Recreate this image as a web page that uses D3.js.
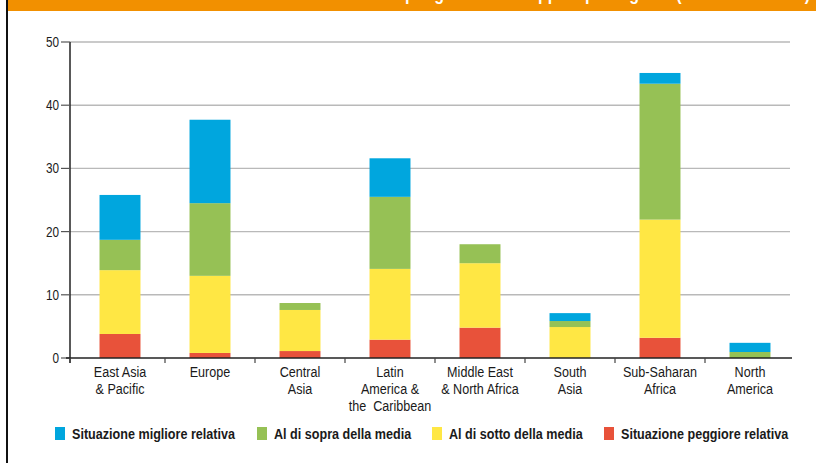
<!DOCTYPE html>
<html>
<head>
<meta charset="utf-8">
<script src="https://cdn.jsdelivr.net/npm/d3@7"></script>
<style>
  body { margin: 0; background: #fff; }
  svg { display: block; }
  .tick-label, .cat-label, .legend-label { font-family: "Liberation Sans Narrow", "Liberation Sans", Arial, sans-serif; fill: #1a1a1a; }
</style>
</head>
<body>
<div id="main"></div>
<script>
const WIDTH = 816;
const HEIGHT = 463;
// no condensed face installed, so squeeze text horizontally
const NARROW = 0.84;

// categories (multi-line labels)
const categories = [
  ["East Asia", "& Pacific"],
  ["Europe"],
  ["Central", "Asia"],
  ["Latin", "America &", "the  Caribbean"],
  ["Middle East", "& North Africa"],
  ["South", "Asia"],
  ["Sub-Saharan", "Africa"],
  ["North", "America"],
];

// series, stacked bottom to top
const peggiore = [3.8, 0.8, 1.1, 2.9, 4.8, 0, 3.2, 0];
const sotto = [10.1, 12.2, 6.5, 11.2, 10.2, 4.9, 18.7, 0];
const sopra = [4.8, 11.5, 1.1, 11.4, 3.0, 0.95, 21.5, 0.95];
const migliore = [7.1, 13.2, 0, 6.1, 0, 1.25, 1.7, 1.45];

const yTicks = [0, 10, 20, 30, 40, 50];

const seriesNames = [
  "Situazione migliore relativa",
  "Al di sopra della media",
  "Al di sotto della media",
  "Situazione peggiore relativa",
];

const COLORS = {
  peggiore: "#e8523a",
  sotto: "#ffe744",
  sopra: "#96c155",
  migliore: "#00a6de",
};

const rows = categories.map((c, i) => ({
  key: i,
  peggiore: peggiore[i],
  sotto: sotto[i],
  sopra: sopra[i],
  migliore: migliore[i],
}));

const svg = d3
  .select("#main")
  .append("svg")
  .attr("width", WIDTH)
  .attr("height", HEIGHT);

// frame: orange header strip (title mostly scrolled off the top) + left border
svg.append("rect").attr("x", 7).attr("y", 0).attr("width", WIDTH - 7).attr("height", 11).attr("fill", "#f29000");
svg.append("rect").attr("x", 6).attr("y", 0).attr("width", 2).attr("height", HEIGHT).attr("fill", "#111");
svg
  .append("text")
  .attr("transform", `translate(810,0) scale(${NARROW},1)`)
  .attr("text-anchor", "end")
  .attr("fill", "#fff")
  .attr("font-family", "Liberation Sans, Arial, sans-serif")
  .attr("font-weight", "bold")
  .attr("font-size", 19)
  .text("Paesi per grado di sviluppo e per regione (numero di Paesi)");

const x = d3.scaleBand().domain(d3.range(categories.length)).range([75, 795]).paddingInner(0.545).paddingOuter(0.2725);
const y = d3.scaleLinear().domain([0, 50]).range([358, 42]);

// gridlines
svg
  .append("g")
  .selectAll("line")
  .data(yTicks.slice(1))
  .join("line")
  .attr("x1", 70)
  .attr("x2", 790)
  .attr("y1", (d) => y(d))
  .attr("y2", (d) => y(d))
  .attr("stroke", "#b9b9b9")
  .attr("stroke-width", 1.4);

// stacked bars
const stack = d3.stack().keys(["peggiore", "sotto", "sopra", "migliore"]);
const layers = stack(rows);

svg
  .append("g")
  .selectAll("g")
  .data(layers)
  .join("g")
  .attr("fill", (d) => COLORS[d.key])
  .selectAll("rect")
  .data((d) => d.filter((s) => s[1] - s[0] > 0))
  .join("rect")
  .attr("x", (d) => x(d.data.key))
  .attr("width", x.bandwidth())
  .attr("y", (d) => y(d[1]))
  .attr("height", (d) => y(d[0]) - y(d[1]));

// y axis
const yAxis = svg.append("g").attr("transform", "translate(70,0)");
yAxis.append("line").attr("x1", 0).attr("x2", 0).attr("y1", y(50)).attr("y2", 363).attr("stroke", "#222").attr("stroke-width", 1.5);
yAxis
  .selectAll(".ytick")
  .data(yTicks)
  .join("line")
  .attr("class", "ytick")
  .attr("x1", -9)
  .attr("x2", 0)
  .attr("y1", (d) => y(d))
  .attr("y2", (d) => y(d))
  .attr("stroke", "#555")
  .attr("stroke-width", 1.2);
yAxis
  .selectAll(".tick-label")
  .data(yTicks)
  .join("text")
  .attr("class", "tick-label")
  .attr("transform", (d) => `translate(-11,${y(d)}) scale(${NARROW},1)`)
  .attr("dy", "0.35em")
  .attr("text-anchor", "end")
  .attr("font-size", 14)
  .text((d) => d);

// x axis
const xAxis = svg.append("g");
xAxis.append("line").attr("x1", 66).attr("x2", 792).attr("y1", y(0)).attr("y2", y(0)).attr("stroke", "#222").attr("stroke-width", 1.5);
xAxis
  .selectAll(".xtick")
  .data(d3.range(categories.length))
  .join("line")
  .attr("class", "xtick")
  .attr("x1", (d) => x(d) - x.step() * x.paddingOuter() + (d === 0 ? -5 : 0))
  .attr("x2", (d) => x(d) - x.step() * x.paddingOuter() + (d === 0 ? -5 : 0))
  .attr("y1", y(0))
  .attr("y2", y(0) + 5)
  .attr("stroke", "#444")
  .attr("stroke-width", 1.2);

const catText = xAxis
  .selectAll(".cat-label")
  .data(categories)
  .join("text")
  .attr("class", "cat-label")
  .attr("transform", (d, i) => `translate(${x(i) + x.bandwidth() / 2},377) scale(${NARROW},1)`)
  .attr("text-anchor", "middle")
  .attr("font-size", 15)
  .attr("xml:space", "preserve");
catText.each(function (lines) {
  const el = d3.select(this);
  lines.forEach((line, j) => {
    el.append("tspan")
      .attr("x", 0)
      .attr("y", j * 17)
      .text(line);
  });
});

// legend
const legendItems = [
  { name: seriesNames[0], color: COLORS.migliore, x: 55 },
  { name: seriesNames[1], color: COLORS.sopra, x: 257 },
  { name: seriesNames[2], color: COLORS.sotto, x: 432 },
  { name: seriesNames[3], color: COLORS.peggiore, x: 604 },
];
const legend = svg
  .append("g")
  .selectAll("g")
  .data(legendItems)
  .join("g")
  .attr("transform", (d) => `translate(${d.x},427)`);
legend.append("rect").attr("width", 10).attr("height", 13).attr("fill", (d) => d.color);
legend
  .append("text")
  .attr("class", "legend-label")
  .attr("transform", `translate(17,12) scale(${NARROW},1)`)
  .attr("font-size", 15)
  .attr("font-weight", "bold")
  .text((d) => d.name);
</script>
</body>
</html>
